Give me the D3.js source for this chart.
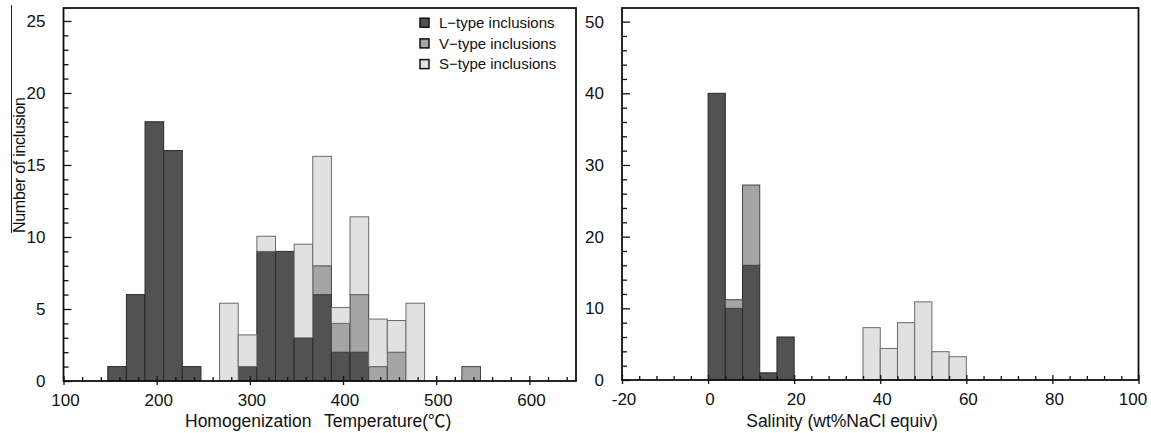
<!DOCTYPE html>
<html>
<head>
<meta charset="utf-8">
<script src="https://cdn.jsdelivr.net/npm/d3@7"></script>
<style>
  html, body { margin: 0; padding: 0; background: #fff; }
  svg { display: block; font-family: "Liberation Sans", Arial, sans-serif; }
</style>
</head>
<body>
<svg id="chart" width="1151" height="433"></svg>
<script>
// ---------------- DATA ----------------
// Left panel: homogenization temperature histogram (bin lower edges, bin width 20 °C)
const tempBinStarts = [147.5, 167.5, 187.5, 207.5, 227.5, 267.5, 287.5, 307.5, 327.5, 347.5, 367.5, 387.5, 407.5, 427.5, 447.5, 467.5, 527.5];
const tempBinWidth = 20;
const tempL = [1, 6, 18, 16, 1, 0, 1, 9, 9, 3, 6, 2, 2, 0, 0, 0, 0];
const tempV = [0, 0, 0, 0, 0, 0, 0, 0, 0, 0, 2, 2, 4, 1, 2, 0, 1];
const tempS = [0, 0, 0, 0, 0, 5.4, 2.2, 1.05, 0, 6.5, 7.6, 1.1, 5.4, 3.3, 2.2, 5.4, 0];

// Right panel: salinity histogram (bin lower edges, bin width 4 wt%)
const salBinStarts = [0, 4, 8, 12, 16, 36, 40, 44, 48, 52, 56];
const salBinWidth = 4;
const salL = [40, 10, 16, 1, 6, 0, 0, 0, 0, 0, 0];
const salV = [0, 1.2, 11.2, 0, 0, 0, 0, 0, 0, 0, 0];
const salS = [0, 0, 0, 0, 0, 7.3, 4.4, 8, 10.9, 3.95, 3.25];

// Axis ticks / labels
const tempMajorTicks = [100, 200, 300, 400, 500, 600];
const tempYMajorTicks = [0, 5, 10, 15, 20, 25];
const salMajorTicks = [-20, 0, 20, 40, 60, 80, 100];
const salYMajorTicks = [0, 10, 20, 30, 40, 50];

const seriesKeys = ["L", "V", "S"];
const seriesNames = ["L\u2212type inclusions", "V\u2212type inclusions", "S\u2212type inclusions"];
const leftXTitleParts = ["Homogenization", "Temperature(", "\u2103", ")"];
const rightXTitle = "Salinity (wt%NaCl equiv)";
const yTitle = "Number of inclusion";

// ---------------- STYLE ----------------
const fills = { L: "#525252", V: "#a5a5a5", S: "#e1e1e1" };
const strokes = { L: "#2a2a2a", V: "#444", S: "#6a6a6a" };

const svg = d3.select("#chart");

function panel(opts) {
  const { x, y, starts, width, L, V, S, xMajor, xMinorStep, yMajor, yMinorStep, lastLabelShift } = opts;
  const g = svg.append("g");
  const rows = starts.map((s, i) => ({ start: s, L: L[i], V: V[i], S: S[i] }));
  const stacked = d3.stack().keys(seriesKeys)(rows);

  // bars
  stacked.forEach(layer => {
    g.append("g").selectAll("rect")
      .data(layer.filter(d => d[1] - d[0] > 0))
      .join("rect")
      .attr("x", d => x(d.data.start))
      .attr("width", d => x(d.data.start + width) - x(d.data.start))
      .attr("y", d => y(d[1]))
      .attr("height", d => y(d[0]) - y(d[1]))
      .attr("fill", fills[layer.key])
      .attr("stroke", strokes[layer.key])
      .attr("stroke-width", 1);
  });

  const [x0, x1] = x.range();
  const [yb, yt] = y.range();
  const xd = x.domain(), yd = y.domain();

  // minor ticks
  const xMinor = d3.range(xd[0], xd[1] + 1e-9, xMinorStep).filter(v => !xMajor.includes(v));
  const yMinor = d3.range(yd[0], yd[1] + 1e-9, yMinorStep).filter(v => !yMajor.includes(v));

  const axB = g.append("g").attr("transform", `translate(0,${yb})`);
  axB.call(d3.axisBottom(x).tickValues(xMinor).tickSize(-4).tickFormat(""));
  axB.call(g2 => g2.select(".domain").remove());
  const axB2 = g.append("g").attr("transform", `translate(0,${yb})`);
  axB2.call(d3.axisBottom(x).tickValues(xMajor).tickSize(4).tickPadding(9).tickFormat(d3.format("d")));
  axB2.call(g2 => g2.select(".domain").remove());
  const lastMajor = xMajor[xMajor.length - 1];
  axB2.selectAll("text").attr("font-size", 17).attr("fill", "#111")
    .attr("dx", d => d === lastMajor ? lastLabelShift : 1.5)
    .text(d => d < 0 ? "-" + Math.abs(d) : d);
  const axB3 = g.append("g").attr("transform", `translate(0,${yb})`);
  axB3.call(d3.axisBottom(x).tickValues(xMajor).tickSize(-5).tickFormat(""));
  axB3.call(g2 => g2.select(".domain").remove());

  const axL = g.append("g").attr("transform", `translate(${x0},0)`);
  axL.call(d3.axisLeft(y).tickValues(yMinor).tickSize(-5).tickFormat(""));
  axL.call(g2 => g2.select(".domain").remove());
  const axL2 = g.append("g").attr("transform", `translate(${x0},0)`);
  axL2.call(d3.axisLeft(y).tickValues(yMajor).tickSize(-8).tickPadding(18).tickFormat(d3.format("d")));
  axL2.call(g2 => g2.select(".domain").remove());
  axL2.selectAll("text").attr("font-size", 17).attr("fill", "#111");

  g.selectAll(".tick line").attr("stroke", "#111").attr("stroke-width", 1.3);

  // frame
  g.append("rect")
    .attr("x", x0).attr("y", yt)
    .attr("width", x1 - x0).attr("height", yb - yt)
    .attr("fill", "none").attr("stroke", "#111").attr("stroke-width", 1.8);
  return g;
}

// Left panel
const xT = d3.scaleLinear().domain([100, 650]).range([63.5, 576]);
const yT = d3.scaleLinear().domain([0, 25.9]).range([381, 8]);
panel({ x: xT, y: yT, starts: tempBinStarts, width: tempBinWidth, L: tempL, V: tempV, S: tempS,
        xMajor: tempMajorTicks, xMinorStep: 20, yMajor: tempYMajorTicks, yMinorStep: 1, lastLabelShift: 1.5 });

// Right panel
const xS = d3.scaleLinear().domain([-20, 100]).range([622, 1138.5]);
const yS = d3.scaleLinear().domain([0, 51.9]).range([380, 8]);
panel({ x: xS, y: yS, starts: salBinStarts, width: salBinWidth, L: salL, V: salV, S: salS,
        xMajor: salMajorTicks, xMinorStep: 4, yMajor: salYMajorTicks, yMinorStep: 2, lastLabelShift: -6 });

// Axis titles
const lt = svg.append("text").attr("y", 427).attr("font-size", 17.5).attr("fill", "#111");
lt.append("tspan").attr("x", 185).text(leftXTitleParts[0]);
lt.append("tspan").attr("x", 324).text(leftXTitleParts[1]);
lt.append("tspan").attr("font-family", "Noto Sans CJK SC").text(leftXTitleParts[2]);
lt.append("tspan").text(leftXTitleParts[3]);
svg.append("text").attr("x", 842).attr("y", 427).attr("text-anchor", "middle")
  .attr("font-size", 17.5).attr("fill", "#111").text(rightXTitle);
svg.append("text").attr("transform", "translate(25,233) rotate(-90)")
  .attr("text-anchor", "start").attr("font-size", 16).attr("letter-spacing", -0.3)
  .attr("fill", "#111").text(yTitle);
// overline artifact on the y title
svg.append("line").attr("x1", 11.5).attr("x2", 11.5).attr("y1", 5).attr("y2", 233)
  .attr("stroke", "#222").attr("stroke-width", 1);

// Legend
const leg = svg.append("g");
seriesKeys.forEach((k, i) => {
  const cy = 22.7 + i * 20.7;
  leg.append("rect").attr("x", 420).attr("y", cy - 4.5).attr("width", 9).attr("height", 9)
    .attr("fill", fills[k]).attr("stroke", "#111").attr("stroke-width", 1.5);
  leg.append("text").attr("x", 439).attr("y", cy).attr("dy", "0.35em")
    .attr("font-size", 15).attr("fill", "#111").text(seriesNames[i]);
});
</script>
</body>
</html>
